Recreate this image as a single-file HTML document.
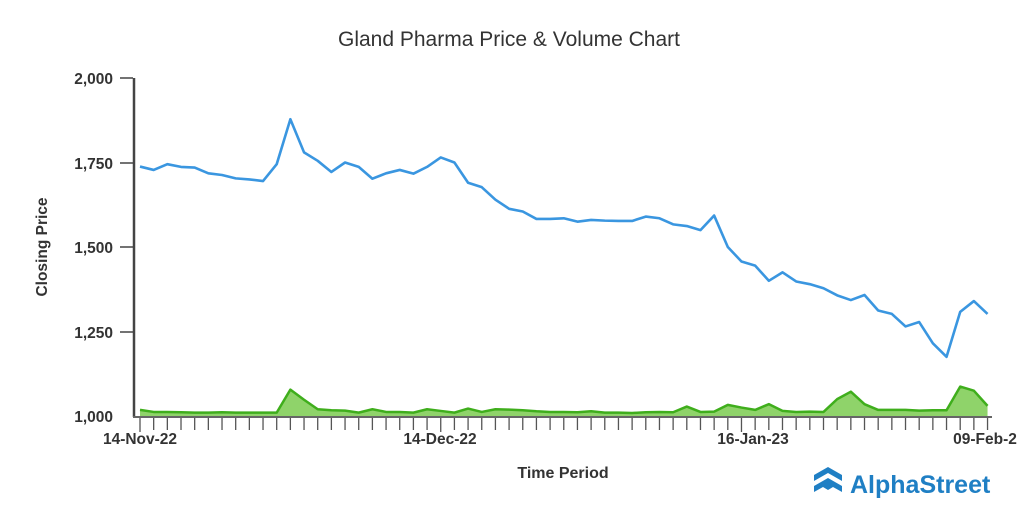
<!DOCTYPE html>
<html><head><meta charset="utf-8"><style>
body{margin:0;background:#fff;width:1024px;height:512px;overflow:hidden}
svg{font-family:"Liberation Sans",sans-serif}
</style></head><body>
<svg id="s" width="1024" height="512" viewBox="0 0 1024 512">
<text x="509" y="46" text-anchor="middle" font-size="21" fill="#333">Gland Pharma Price &amp; Volume Chart</text>
<g font-size="15.5" font-weight="bold" fill="#333" text-anchor="end">
<text x="113" y="84">2,000</text>
<text x="113" y="169">1,750</text>
<text x="113" y="253">1,500</text>
<text x="113" y="338">1,250</text>
<text x="113" y="422">1,000</text>
</g>
<g stroke="#444" stroke-width="1.5">
<line x1="120" y1="78" x2="133" y2="78"/><line x1="120" y1="163" x2="133" y2="163"/>
<line x1="120" y1="247" x2="133" y2="247"/><line x1="120" y1="332" x2="133" y2="332"/>
</g>
<text transform="translate(47,247) rotate(-90)" text-anchor="middle" font-size="15.5" font-weight="bold" fill="#333">Closing Price</text>
<g id="ticks" stroke="#555" stroke-width="1.3"></g>
<polygon id="va" fill="#8fd36a" stroke="none"/>
<polyline id="vl" fill="none" stroke="#3fae1c" stroke-width="2.5" stroke-linejoin="round"/>
<polyline id="pl" fill="none" stroke="#3a96e0" stroke-width="2.6" stroke-linejoin="round"/>
<line x1="134" y1="78" x2="134" y2="417" stroke="#444" stroke-width="2.5"/>
<line x1="133" y1="417" x2="992" y2="417" stroke="#666" stroke-width="2"/>
<g font-size="15.5" font-weight="bold" fill="#333" text-anchor="middle">
<text x="140" y="444">14-Nov-22</text>
<text x="440" y="444">14-Dec-22</text>
<text x="753" y="444">16-Jan-23</text>
<text x="985" y="444">09-Feb-2</text>
</g>
<text x="563" y="478" text-anchor="middle" font-size="16" font-weight="bold" fill="#333">Time Period</text>
<g fill="#1f7fc4">
<path d="M828 467 L842 475 L842 481 L828 473 L814 481 L814 475 Z"/>
<path d="M828 478 L842 486 L842 492 L833 487 L828 490 L823 487 L814 492 L814 486 Z"/>
<text x="850" y="493" font-size="25" font-weight="bold">AlphaStreet</text>
</g>
</svg>
<script>
var p=[1738,1728,1745,1737,1735,1718,1713,1703,1700,1695,1745,1878,1780,1755,1722,1750,1737,1702,1718,1728,1717,1737,1765,1750,1690,1677,1640,1613,1605,1583,1583,1585,1575,1580,1578,1577,1577,1590,1585,1567,1562,1550,1593,1500,1457,1445,1400,1425,1398,1390,1378,1357,1343,1358,1312,1302,1265,1278,1215,1175,1308,1340,1302];
var v=[1018,1012,1012,1011,1010,1010,1011,1010,1010,1010,1010,1078,1048,1020,1017,1016,1010,1020,1012,1012,1010,1020,1015,1010,1022,1012,1020,1019,1017,1014,1012,1012,1011,1014,1010,1010,1009,1011,1012,1011,1028,1012,1013,1033,1025,1018,1035,1015,1012,1013,1012,1050,1072,1035,1018,1018,1018,1016,1017,1017,1087,1075,1030];
function X(i){return 140+i*13.67}function Y(a){return 416-(a-1000)*0.338}
document.getElementById('pl').setAttribute('points',p.map((a,i)=>X(i)+','+Y(a)).join(' '));
var vs=v.map((a,i)=>X(i)+','+Y(a)).join(' ');
document.getElementById('vl').setAttribute('points',vs);
document.getElementById('va').setAttribute('points',vs+' '+X(62)+',417 140,417');
var t='';for(var i=0;i<63;i++){t+='<line x1="'+X(i)+'" y1="417" x2="'+X(i)+'" y2="'+(i%22==0||i==44?432:430)+'"/>'}
document.getElementById('ticks').innerHTML=t;
</script>
</body></html>
